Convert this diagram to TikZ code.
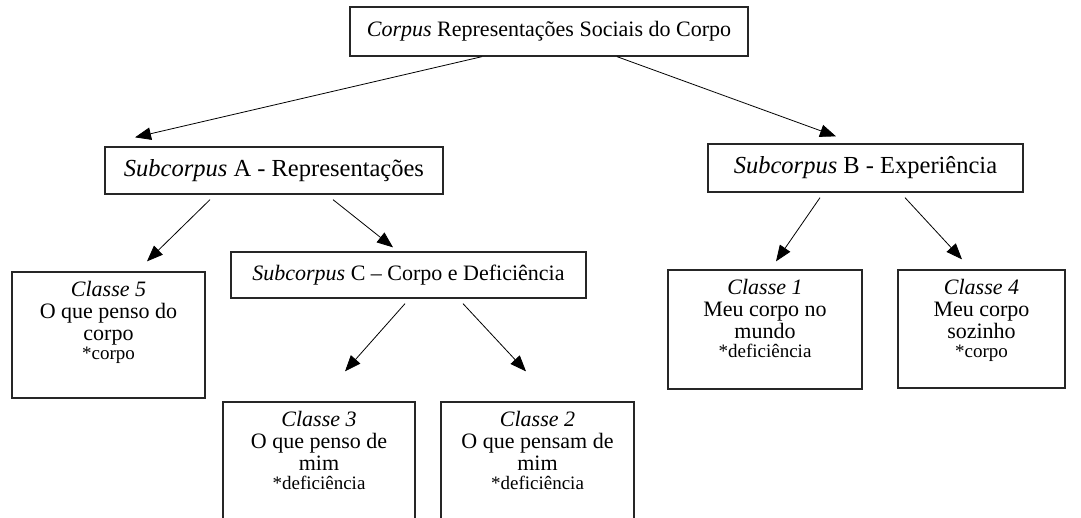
\documentclass[tikz,border=0pt]{standalone}
\usepackage{fontspec}
\setmainfont{Liberation Serif}
\usetikzlibrary{arrows.meta}
\tikzset{
  box/.style={draw=black!85, line width=1.3pt, inner sep=0pt, font=\fontsize{22}{22}\selectfont},
  bigbox/.style={box, font=\fontsize{24.5}{24.5}\selectfont},
  cls/.style={anchor=north, align=center, inner sep=0pt, font=\fontsize{22}{22}\selectfont},
  arr/.style={-{Triangle[length=16pt,width=12.5pt]}, line width=0.8pt},
}
\newcommand{\smalltxt}[1]{{\fontsize{19}{19}\selectfont #1}}
\begin{document}
\begin{tikzpicture}[x=1pt,y=-1pt]
\clip (0,0) rectangle (1081,517);
\fill[white] (0,0) rectangle (1081,517);

\node[box, minimum width=398pt, minimum height=49pt] (top) at (549,31.5) {\textit{Corpus} Representações Sociais do Corpo};
\node[bigbox, minimum width=338pt, minimum height=47pt] (sa) at (274,170.5) {\textit{Subcorpus} A - Representações};
\node[bigbox, minimum width=315pt, minimum height=48pt] (sb) at (865.5,168) {\textit{Subcorpus} B - Experiência};
\node[box, minimum width=355pt, minimum height=46pt] (sc) at (408.5,275) {\textit{Subcorpus} C – Corpo e Deficiência};

\node[box, minimum width=193pt, minimum height=126pt] (c5) at (108.5,335) {};
\node[cls] (c5t) at ([yshift=-10pt]c5.north) {\textit{Classe 5}\\O que penso do\\corpo\\[-3pt]\smalltxt{*corpo}};

\node[box, minimum width=194pt, minimum height=119pt] (c1) at (765,329.5) {};
\node[cls] (c1t) at ([yshift=-10pt]c1.north) {\textit{Classe 1}\\Meu corpo no\\mundo\\[-3pt]\smalltxt{*deficiência}};

\node[box, minimum width=167pt, minimum height=118pt] (c4) at (981.5,329) {};
\node[cls] (c4t) at ([yshift=-10pt]c4.north) {\textit{Classe 4}\\Meu corpo\\sozinho\\[-3pt]\smalltxt{*corpo}};

\node[box, minimum width=192pt, minimum height=138pt] (c3) at (319,471) {};
\node[cls] (c3t) at ([yshift=-10pt]c3.north) {\textit{Classe 3}\\O que penso de\\mim\\[-3pt]\smalltxt{*deficiência}};

\node[box, minimum width=193pt, minimum height=138pt] (c2) at (537.5,471) {};
\node[cls] (c2t) at ([yshift=-10pt]c2.north) {\textit{Classe 2}\\O que pensam de\\mim\\[-3pt]\smalltxt{*deficiência}};

\draw[arr] ([xshift=-67pt]top.south) -- ([xshift=-139pt,yshift=9pt]sa.north);
\draw[arr] ([xshift=68pt]top.south) -- ([xshift=-29.5pt,yshift=7pt]sb.north);
\draw[arr] ([xshift=-64pt,yshift=-5pt]sa.south) -- ([xshift=38.5pt,yshift=10pt]c5.north);
\draw[arr] ([xshift=59pt,yshift=-5pt]sa.south) -- ([xshift=-15.5pt,yshift=4pt]sc.north);
\draw[arr] ([xshift=-3.5pt,yshift=-5pt]sc.south) -- ([xshift=26pt,yshift=30pt]c3.north);
\draw[arr] ([xshift=54.5pt,yshift=-5pt]sc.south) -- ([xshift=-11.5pt,yshift=30pt]c2.north);
\draw[arr] ([xshift=-45.5pt,yshift=-5pt]sb.south) -- ([xshift=11pt,yshift=8pt]c1.north);
\draw[arr] ([xshift=39.5pt,yshift=-5pt]sb.south) -- ([xshift=-19.5pt,yshift=10pt]c4.north);
\end{tikzpicture}
\end{document}
